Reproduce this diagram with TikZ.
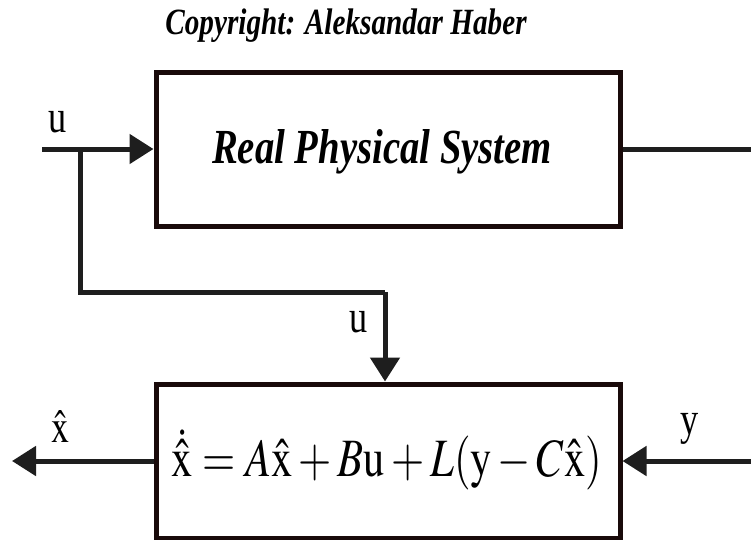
\documentclass[tikz,border=0pt]{standalone}
\usepackage{mathptmx}
\usepackage[no-math]{fontspec}
\setmainfont{Liberation Serif}
\usetikzlibrary{arrows.meta}
\definecolor{boxline}{RGB}{25,10,10}
\definecolor{wire}{RGB}{30,30,30}
\tikzset{
  blockbox/.style={draw=boxline, line width=5pt, rectangle, minimum width=464pt, minimum height=154pt, inner sep=0pt, fill=white},
  wireline/.style={draw=wire, line width=5pt, line join=miter},
  arr/.style={wireline, -{Triangle[length=24pt,width=29pt]}},
  bigbi/.style={font=\fontsize{49}{49}\selectfont\bfseries\itshape, inner sep=0pt, anchor=base},
  smallbi/.style={font=\fontsize{37}{37}\selectfont\bfseries\itshape, inner sep=0pt, anchor=base},
  eqtext/.style={font=\fontsize{54}{54}\selectfont, inner sep=0pt, anchor=base},
  sig/.style={font=\fontsize{46}{46}\selectfont, inner sep=0pt, anchor=base}
}
\begin{document}
\begin{tikzpicture}[x=1pt, y=-1pt]
\useasboundingbox (0,0) rectangle (751,539);
\fill[white] (0,0) rectangle (751,539);
% title
\node[smallbi] (copy) at (346,34) {\scalebox{0.79}[1]{Copyright: Aleksandar Haber}};
% blocks
\node[blockbox] (sys) at (388,149) {};
\node[blockbox] (obs) at (388,461) {};
\node[bigbi] (systext) at (382,163) {\scalebox{0.79}[1]{Real Physical System}};
\node[eqtext] (eq) at (387,476) {\scalebox{0.79}[1]{$\dot{\hat{\mathrm{x}}} = A\hat{\mathrm{x}} + B\mathrm{u} + L(\mathrm{y} - C\hat{\mathrm{x}})$}};
% coordinates
\coordinate (uin) at (42,149);
\coordinate (br) at (80,149);
\coordinate (corner) at (385,292);
\coordinate (sysout) at (751,149);
\coordinate (yin) at (751,461);
\coordinate (xout) at (12,461);
% connectors
\draw[arr] (uin) -- (sys.west);
\draw[wireline] (br) |- (corner);
\draw[arr] (corner) -- (corner |- obs.north);
\draw[wireline] (sys.east) -- (sysout);
\draw[arr] (yin) -- (obs.east);
\draw[arr] (obs.west) -- (xout);
% labels
\node[sig] (ulab1) at (58,132) {\scalebox{0.79}[1]{u}};
\node[sig] (ulab2) at (359,332) {\scalebox{0.79}[1]{u}};
\node[sig] (xlab) at (61,442) {\scalebox{0.79}[1]{$\hat{\mathrm{x}}$}};
\node[sig] (ylab) at (690,434) {\scalebox{0.79}[1]{y}};
\end{tikzpicture}
\end{document}
